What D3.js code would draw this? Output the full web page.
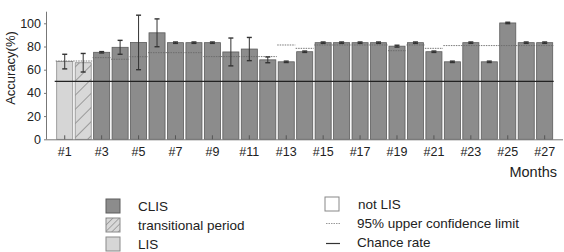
<!DOCTYPE html>
<html>
<head>
<meta charset="utf-8">
<script src="https://cdn.jsdelivr.net/npm/d3@7"></script>
<style>
  body { margin: 0; background: #fff; }
  text { font-family: "Liberation Sans", Arial, sans-serif; fill: #222; }
</style>
</head>
<body>
<script>
var w = 564;
var h = 252;

// month 1..27
var months = d3.range(1, 28);
var accuracy = [67, 66, 75, 79.3, 83.5, 91.8, 83.3, 83.3, 83.3, 75.3, 77.8, 68.5, 66.8, 75.5,
                83.3, 83.3, 83.3, 83.3, 80.3, 83.3, 75.5, 66.8, 83.3, 66.8, 100.3, 83.3, 83.3];
var errors = [6.3, 8, 0.6, 6, 23.5, 12, 0.6, 0.6, 0.6, 12, 10, 2.5, 0.6, 0.6,
              0.6, 0.6, 0.6, 0.6, 0.8, 0.6, 0.6, 0.6, 0.6, 0.6, 0.6, 0.6, 0.6];
var phase = ["LIS", "trans", "CLIS", "CLIS", "CLIS", "CLIS", "CLIS", "CLIS", "CLIS", "CLIS",
             "CLIS", "CLIS", "CLIS", "CLIS", "CLIS", "CLIS", "CLIS", "CLIS", "CLIS", "CLIS",
             "CLIS", "CLIS", "CLIS", "CLIS", "CLIS", "CLIS", "CLIS"];
// 95% upper confidence limit segments: [first month, last month, value]
var confLimits = [[1, 2, 67.5], [3, 3, 70.4], [4, 4, 69], [5, 5, 71.2], [6, 8, 74.7],
                  [9, 12, 71.3], [13, 13, 81.3], [14, 14, 78.4], [15, 18, 81.3], [19, 19, 76.4],
                  [20, 20, 81.3], [21, 21, 78.4], [22, 27, 80.8]];
var chanceRate = 50;
var yTicks = [0, 20, 40, 60, 80, 100];

var svg = d3.select("body").append("svg")
            .attr("width", w)
            .attr("height", h);

var defs = svg.append("defs");
var pat = defs.append("pattern")
              .attr("id", "hatch")
              .attr("patternUnits", "userSpaceOnUse")
              .attr("width", 10).attr("height", 10)
              .attr("patternTransform", "rotate(45)");
pat.append("rect").attr("width", 10).attr("height", 10).attr("fill", "#d8d8d8");
pat.append("line").attr("x1", 0).attr("y1", 0).attr("x2", 0).attr("y2", 10)
   .attr("stroke", "#707070").attr("stroke-width", 1.2);

var pat2 = defs.append("pattern")
              .attr("id", "hatchSmall")
              .attr("patternUnits", "userSpaceOnUse")
              .attr("width", 4.5).attr("height", 4.5)
              .attr("patternTransform", "rotate(45)");
pat2.append("rect").attr("width", 4.5).attr("height", 4.5).attr("fill", "#d8d8d8");
pat2.append("line").attr("x1", 0).attr("y1", 0).attr("x2", 0).attr("y2", 4.5)
   .attr("stroke", "#707070").attr("stroke-width", 1);

var xScale = d3.scaleBand()
               .domain(months)
               .range([55.5, 553.9])
               .paddingInner(0.13)
               .paddingOuter(0.065);

var yScale = d3.scaleLinear()
               .domain([0, 100])
               .range([139.3, 23.3]);

var fills = { LIS: "#d6d6d6", trans: "url(#hatch)", CLIS: "#8c8c8c" };
var strokes = { LIS: "#8a8a8a", trans: "#8a8a8a", CLIS: "#5c5c5c" };

// bars
svg.selectAll("rect.bar")
   .data(months)
   .enter()
   .append("rect")
   .attr("class", "bar")
   .attr("x", function(d) { return xScale(d); })
   .attr("y", function(d, i) { return yScale(accuracy[i]); })
   .attr("width", xScale.bandwidth())
   .attr("height", function(d, i) { return yScale(0) - yScale(accuracy[i]); })
   .attr("fill", function(d, i) { return fills[phase[i]]; })
   .attr("stroke", function(d, i) { return strokes[phase[i]]; })
   .attr("stroke-width", 0.8);

// confidence limits
svg.selectAll("line.conf")
   .data(confLimits)
   .enter()
   .append("line")
   .attr("x1", function(d) { return xScale(d[0]) - 1; })
   .attr("x2", function(d) { return xScale(d[1]) + xScale.bandwidth() + 1; })
   .attr("y1", function(d) { return yScale(d[2]); })
   .attr("y2", function(d) { return yScale(d[2]); })
   .attr("stroke", "#6a6a6a")
   .attr("stroke-width", 0.9)
   .attr("stroke-dasharray", "1.5,1");

// chance line
svg.append("line")
   .attr("x1", xScale(1) - 2)
   .attr("x2", xScale(27) + xScale.bandwidth() + 1)
   .attr("y1", yScale(chanceRate))
   .attr("y2", yScale(chanceRate))
   .attr("stroke", "#222")
   .attr("stroke-width", 1.2);

// error bars
var eb = svg.selectAll("g.err")
            .data(months)
            .enter()
            .append("g")
            .attr("stroke", "#333")
            .attr("stroke-width", 1);
eb.append("line")
  .attr("x1", function(d) { return xScale(d) + xScale.bandwidth() / 2; })
  .attr("x2", function(d) { return xScale(d) + xScale.bandwidth() / 2; })
  .attr("y1", function(d, i) { return yScale(accuracy[i] - errors[i]); })
  .attr("y2", function(d, i) { return yScale(accuracy[i] + errors[i]); });
eb.append("line")
  .attr("x1", function(d) { return xScale(d) + xScale.bandwidth() / 2 - 2.5; })
  .attr("x2", function(d) { return xScale(d) + xScale.bandwidth() / 2 + 2.5; })
  .attr("y1", function(d, i) { return yScale(accuracy[i] + errors[i]); })
  .attr("y2", function(d, i) { return yScale(accuracy[i] + errors[i]); })
  .attr("stroke-width", 1.4);
eb.append("line")
  .attr("x1", function(d) { return xScale(d) + xScale.bandwidth() / 2 - 2.5; })
  .attr("x2", function(d) { return xScale(d) + xScale.bandwidth() / 2 + 2.5; })
  .attr("y1", function(d, i) { return yScale(accuracy[i] - errors[i]); })
  .attr("y2", function(d, i) { return yScale(accuracy[i] - errors[i]); })
  .attr("stroke-width", 1.4);

// x axis
var xAxis = d3.axisBottom(xScale)
              .tickValues(months.filter(function(d) { return d % 2 === 1; }))
              .tickFormat(function(d) { return "#" + d; })
              .tickSizeInner(-4)
              .tickSizeOuter(0)
              .tickPadding(8);
var gx = svg.append("g")
            .attr("transform", "translate(0," + yScale(0) + ")")
            .call(xAxis);
gx.select(".domain").attr("d", "M46,0.5H563").attr("stroke", "#777");
gx.selectAll(".tick line").attr("stroke", "#555");
gx.selectAll(".tick text").attr("font-size", 12.5).style("font-family", "Liberation Sans, Arial, sans-serif");

// y axis
var yAxis = d3.axisLeft(yScale)
              .tickValues(yTicks)
              .tickSize(2)
              .tickPadding(3);
var gy = svg.append("g")
            .attr("transform", "translate(46,0)")
            .call(yAxis);
gy.select(".domain").attr("d", "M0.5," + yScale(110) + "V" + yScale(0)).attr("stroke", "#777");
gy.selectAll(".tick line").attr("stroke", "#777");
gy.selectAll(".tick text").attr("font-size", 12.5).style("font-family", "Liberation Sans, Arial, sans-serif");

svg.append("text")
   .attr("transform", "translate(15,68) rotate(-90)")
   .attr("text-anchor", "middle")
   .attr("font-size", 13)
   .text("Accuracy(%)");

svg.append("text")
   .attr("x", 557)
   .attr("y", 177)
   .attr("text-anchor", "end")
   .attr("font-size", 14.5)
   .text("Months");

// legend
var legLeft = [["CLIS", "#8c8c8c", "#5c5c5c"], ["transitional period", "url(#hatchSmall)", "#8a8a8a"], ["LIS", "#d6d6d6", "#8a8a8a"]];
var lg = svg.selectAll("g.legL")
            .data(legLeft)
            .enter()
            .append("g")
            .attr("transform", function(d, i) { return "translate(106," + (199 + i * 19) + ")"; });
lg.append("rect").attr("width", 14).attr("height", 14)
  .attr("fill", function(d) { return d[1]; })
  .attr("stroke", function(d) { return d[2]; });
lg.append("text").attr("x", 32).attr("y", 12).attr("font-size", 13.5)
  .text(function(d) { return d[0]; });

svg.append("rect").attr("x", 325).attr("y", 197).attr("width", 14).attr("height", 14)
   .attr("fill", "#fff").attr("stroke", "#888");
svg.append("text").attr("x", 358).attr("y", 209).attr("font-size", 13.5).text("not LIS");
svg.append("line").attr("x1", 326).attr("x2", 340).attr("y1", 223.5).attr("y2", 223.5)
   .attr("stroke", "#999").attr("stroke-dasharray", "1.5,1");
svg.append("text").attr("x", 357).attr("y", 228).attr("font-size", 13.5).text("95% upper confidence limit");
svg.append("line").attr("x1", 326).attr("x2", 340).attr("y1", 243.5).attr("y2", 243.5)
   .attr("stroke", "#333").attr("stroke-width", 1.2);
svg.append("text").attr("x", 357).attr("y", 247).attr("font-size", 13.5).text("Chance rate");
</script>
</body>
</html>
